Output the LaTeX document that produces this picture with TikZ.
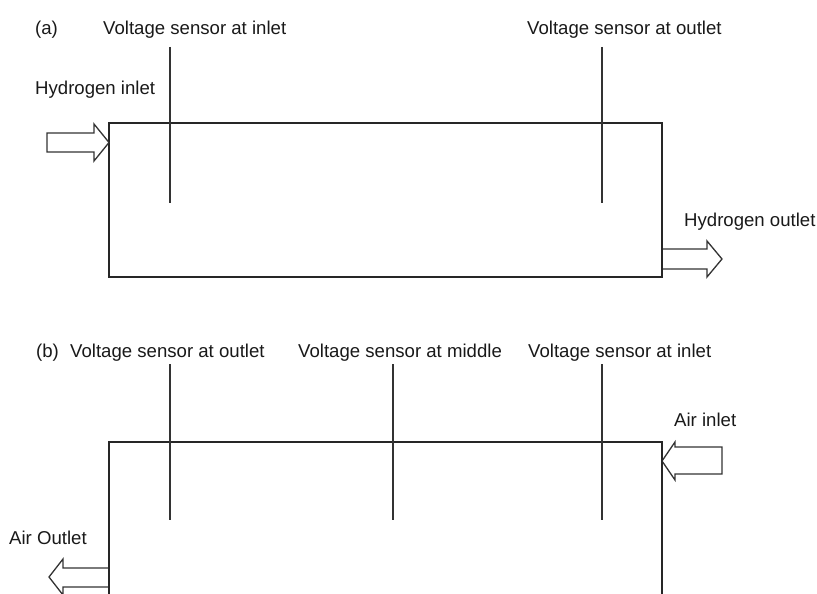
\documentclass[tikz,border=0pt]{standalone}
\usepackage{fontspec}
\setmainfont{Liberation Sans}
\begin{document}
\begin{tikzpicture}[x=1pt,y=-1pt,
  lbl/.style={anchor=base west,inner sep=0pt,text=black!90,font=\fontsize{18.6}{22}\selectfont},
  boxline/.style={draw=black!85,line width=1.7pt},
  sensor/.style={draw=black!80,line width=1.7pt},
  flow/.style={draw=black!80,line width=1.3pt,line join=miter,fill=white}]
\useasboundingbox (0,0) rectangle (817,594);
\clip (0,0) rectangle (817,594);
% ---------- (a) ----------
\coordinate (a1) at (109,123);
\coordinate (a2) at (662,277);
\draw[boxline] (a1) rectangle (a2);
\node[lbl] (la) at (35,34.5) {(a)};
\node[lbl] (s1) at (103,34.5) {Voltage sensor at inlet};
\node[lbl] (s2) at (527,34.5) {Voltage sensor at outlet};
\node[lbl] (hin) at (35,94.5) {Hydrogen inlet};
\node[lbl] (hout) at (684,226.5) {Hydrogen outlet};
\coordinate (p1t) at (170,47); \coordinate (p1b) at (170,203);
\coordinate (p2t) at (602,47); \coordinate (p2b) at (602,203);
\draw[sensor] (p1t) -- (p1b);
\draw[sensor] (p2t) -- (p2b);
\draw[flow] (47,133) -- (94,133) -- (94,124) -- (109,142.5) -- (94,161) -- (94,152) -- (47,152) -- cycle;
\draw[flow] (662,249) -- (707,249) -- (707,241) -- (722,259) -- (707,277) -- (707,269) -- (662,269) -- cycle;
\draw[boxline] (662,123) -- (662,277);
% ---------- (b) ----------
\coordinate (b1) at (109,442);
\coordinate (b2) at (662,610);
\draw[boxline] (109,610) -- (109,442) -- (662,442) -- (662,610);
\node[lbl] (lb) at (36,357) {(b)};
\node[lbl] (t1) at (70,357) {Voltage sensor at outlet};
\node[lbl] (t2) at (298,357) {Voltage sensor at middle};
\node[lbl] (t3) at (528,357) {Voltage sensor at inlet};
\node[lbl] (ain) at (674,426.5) {Air inlet};
\node[lbl] (aout) at (9,544) {Air Outlet};
\coordinate (q1t) at (170,364); \coordinate (q1b) at (170,520);
\coordinate (q2t) at (393,364); \coordinate (q2b) at (393,520);
\coordinate (q3t) at (602,364); \coordinate (q3b) at (602,520);
\draw[sensor] (q1t) -- (q1b);
\draw[sensor] (q2t) -- (q2b);
\draw[sensor] (q3t) -- (q3b);
\draw[flow] (722,447) -- (675,447) -- (675,442) -- (662,461) -- (675,480) -- (675,474) -- (722,474) -- cycle;
\draw[flow] (109,568) -- (63,568) -- (63,559) -- (49,577) -- (63,595) -- (63,587) -- (109,587) -- cycle;
\draw[boxline] (109,442) -- (109,610);
\draw[boxline] (662,442) -- (662,610);
\end{tikzpicture}
\end{document}
